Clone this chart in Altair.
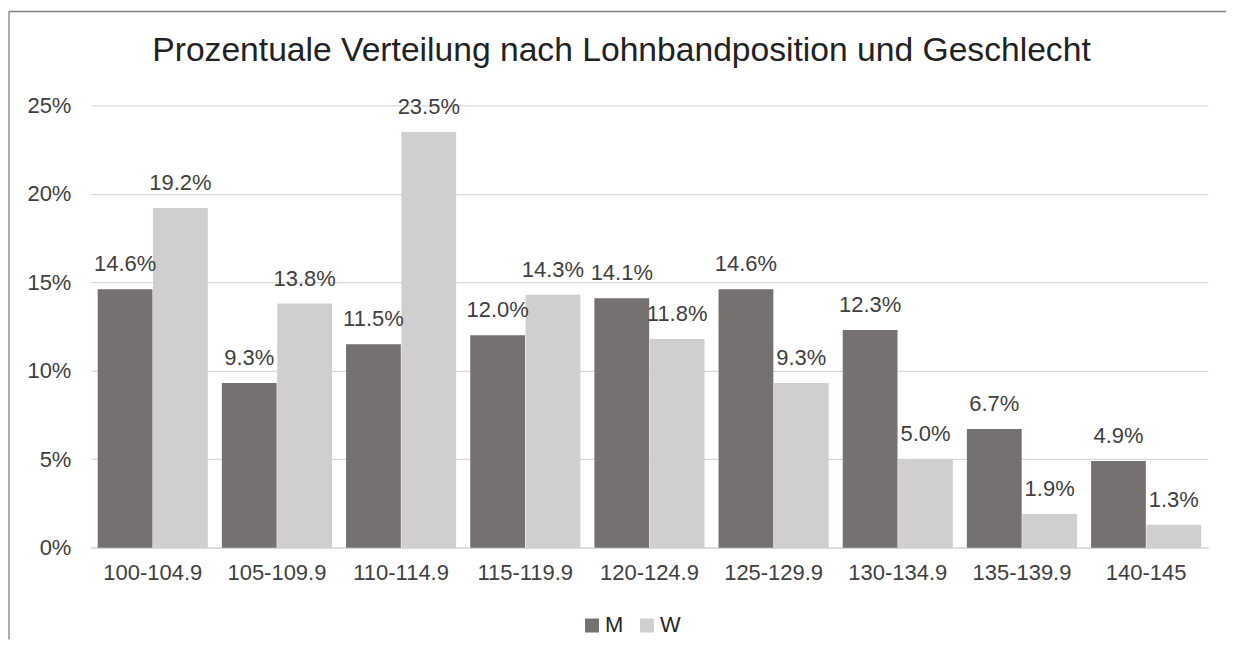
import altair as alt
import pandas as pd

categories = ["100-104.9", "105-109.9", "110-114.9", "115-119.9", "120-124.9",
              "125-129.9", "130-134.9", "135-139.9", "140-145"]
series_names = ["M", "W"]
values_m = [14.6, 9.3, 11.5, 12.0, 14.1, 14.6, 12.3, 6.7, 4.9]
values_w = [19.2, 13.8, 23.5, 14.3, 11.8, 9.3, 5.0, 1.9, 1.3]
y_ticks = [0, 0.05, 0.10, 0.15, 0.20, 0.25]
title_text = "Prozentuale Verteilung nach Lohnbandposition und Geschlecht"

rows = []
for c, m, w in zip(categories, values_m, values_w):
    rows.append({"Band": c, "Geschlecht": "M", "Wert": m / 100})
    rows.append({"Band": c, "Geschlecht": "W", "Wert": w / 100})
df = pd.DataFrame(rows)

FONT = "Liberation Sans"
colors = ["#767171", "#d0cece"]

x_enc = alt.X("Band:N", sort=categories, title=None,
              scale=alt.Scale(paddingInner=0.113, paddingOuter=0.055),
              axis=alt.Axis(labelAngle=0, labelFontSize=22, labelColor="#404040",
                            labelFont=FONT, ticks=False, tickSize=0, labelPadding=15,
                            domainColor="#d9d9d9", domainWidth=1.5, grid=False))
y_enc = alt.Y("Wert:Q", title=None,
              scale=alt.Scale(domain=[0, 0.25], nice=False),
              axis=alt.Axis(values=y_ticks, format=".0%", labelFontSize=22,
                            labelColor="#404040", labelFont=FONT, ticks=False,
                            tickSize=0, labelPadding=20, domain=False,
                            gridColor="#d9d9d9", gridWidth=1.2))
xo = alt.XOffset("Geschlecht:N", sort=series_names,
                 scale=alt.Scale(paddingInner=0.01))

base = alt.Chart(df)

bars = base.mark_bar().encode(
    x=x_enc, y=y_enc, xOffset=xo,
    color=alt.Color("Geschlecht:N", sort=series_names,
                    scale=alt.Scale(domain=series_names, range=colors),
                    legend=alt.Legend(title=None, orient="none", direction="horizontal",
                                      legendX=491, legendY=510, symbolType="square",
                                      symbolSize=196, symbolStrokeWidth=0,
                                      labelFontSize=22, labelFont=FONT,
                                      labelColor="#262626", labelOffset=2,
                                      columnPadding=12, padding=0)),
)

labels = base.mark_text(fontSize=22, font=FONT, color="#404040",
                        baseline="alphabetic", dy=-18).encode(
    x=alt.X("Band:N", sort=categories),
    y="Wert:Q", xOffset=alt.XOffset("Geschlecht:N", sort=series_names),
    text=alt.Text("Wert:Q", format=".1%"),
)

border_df = pd.DataFrame({"k": [0]})
top_line = alt.Chart(border_df).mark_rule(color="#808080", strokeWidth=1.3).encode(
    x=alt.value(-82), x2=alt.value(1137), y=alt.value(-94))
left_line = alt.Chart(border_df).mark_rule(color="#808080", strokeWidth=1.3).encode(
    x=alt.value(-82), y=alt.value(-94), y2=alt.value(535))

chart = alt.layer(bars, labels, top_line, left_line).properties(
    width=1119, height=443,
    padding={"left": 0, "top": 2, "right": 0, "bottom": 0},
    title=alt.TitleParams(title_text, fontSize=33.7, font=FONT, color="#222222",
                          fontWeight="normal", anchor="middle", baseline="alphabetic",
                          offset=-84, dx=-28),
).configure(background="white").configure_view(strokeWidth=0, stroke="transparent")

chart.save("out.html", embed_options={"renderer": "svg", "actions": False})
